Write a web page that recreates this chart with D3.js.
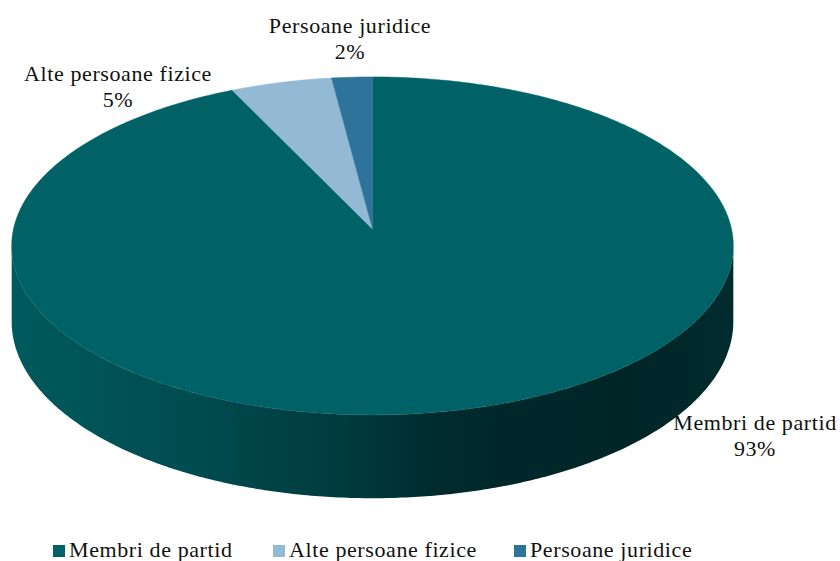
<!DOCTYPE html>
<html>
<head>
<meta charset="utf-8">
<script src="https://cdn.jsdelivr.net/npm/d3@7"></script>
<style>
  body{margin:0;background:#fff;}
</style>
</head>
<body>
<svg width="840" height="561"></svg>
<script>
const categories=['Membri de partid','Alte persoane fizice','Persoane juridice'];
const values=[93,5,2];
const colors=['#006266','#94b9d4','#2e749a'];

const svg=d3.select('svg');
const FONT='Liberation Serif';
const cx=372.5, cy=229, rx=359, ry=167.3, depth=75, persp=0.1;

const data=categories.map((c,i)=>({name:c,value:values[i],color:colors[i]}));
const pie=d3.pie().sort(null).value(d=>d.value);
const arcs=pie(data);

// point on the rim, a = angle clockwise from 12 o'clock, with a little perspective
const pt=(a,dz)=>{
  const X=Math.sin(a), Z=Math.cos(a), s=1/(1+persp*Z);
  return [cx+rx*X*s, cy-ry*Z*s+(dz||0)*s];
};
const sample=(a0,a1,dz)=>{
  const n=Math.max(2,Math.ceil(Math.abs(a1-a0)/0.01));
  return d3.range(n+1).map(k=>pt(a0+(a1-a0)*k/n,dz));
};
const line=d3.line();

// side gradient
const defs=svg.append('defs');
const grad=defs.append('linearGradient')
  .attr('id','side')
  .attr('gradientUnits','userSpaceOnUse')
  .attr('x1',cx-rx).attr('x2',cx+rx).attr('y1',0).attr('y2',0);
[[0,'#005a5d'],[0.25,'#004c4f'],[0.5,'#00373a'],[0.6,'#002a2c'],[0.85,'#002527'],[1,'#002b2d']]
  .forEach(s=>grad.append('stop').attr('offset',s[0]).attr('stop-color',s[1]));

// sides (front part only)
const vis0=Math.acos(-persp), vis1=2*Math.PI-vis0;
arcs.forEach(d=>{
  const s0=Math.max(d.startAngle,vis0), s1=Math.min(d.endAngle,vis1);
  if(s1<=s0) return;
  const top=sample(s0,s1,0), bot=sample(s1,s0,depth);
  svg.append('path')
    .attr('d',line(top.concat(bot))+'Z')
    .attr('fill',d.index===0?'url(#side)':d.data.color);
});

// top faces
const centre=[cx,cy];
svg.selectAll('path.top')
  .data(arcs)
  .enter()
  .append('path')
    .attr('class','top')
    .attr('d',d=>line([centre].concat(sample(d.startAngle,d.endAngle,0)))+'Z')
    .attr('fill',d=>d.data.color)
    .attr('stroke',d=>d.data.color)
    .attr('stroke-width',0.5);

// data labels
const labelPos=[[755,430],[118,81],[350,33]];
arcs.forEach((d,i)=>{
  const t=svg.append('text')
    .attr('x',labelPos[i][0]).attr('y',labelPos[i][1])
    .attr('text-anchor','middle')
    .attr('font-family',FONT)
    .attr('font-size',22)
    .attr('letter-spacing',0.6)
    .attr('fill','#111');
  t.append('tspan').attr('x',labelPos[i][0]).text(d.data.name);
  t.append('tspan').attr('x',labelPos[i][0]).attr('dy',25.5).text(d.data.value+'%');
});

// legend
const legX=[53,273,514];
const leg=svg.selectAll('g.leg')
  .data(data)
  .enter()
  .append('g')
  .attr('class','leg')
  .attr('transform',(d,i)=>`translate(${legX[i]},545)`);
leg.append('rect').attr('width',12).attr('height',12).attr('fill',d=>d.color);
leg.append('text').attr('x',16).attr('y',12)
  .attr('font-family',FONT).attr('font-size',22).attr('letter-spacing',0.6).attr('fill','#111')
  .text(d=>d.name);
</script>
</body>
</html>
